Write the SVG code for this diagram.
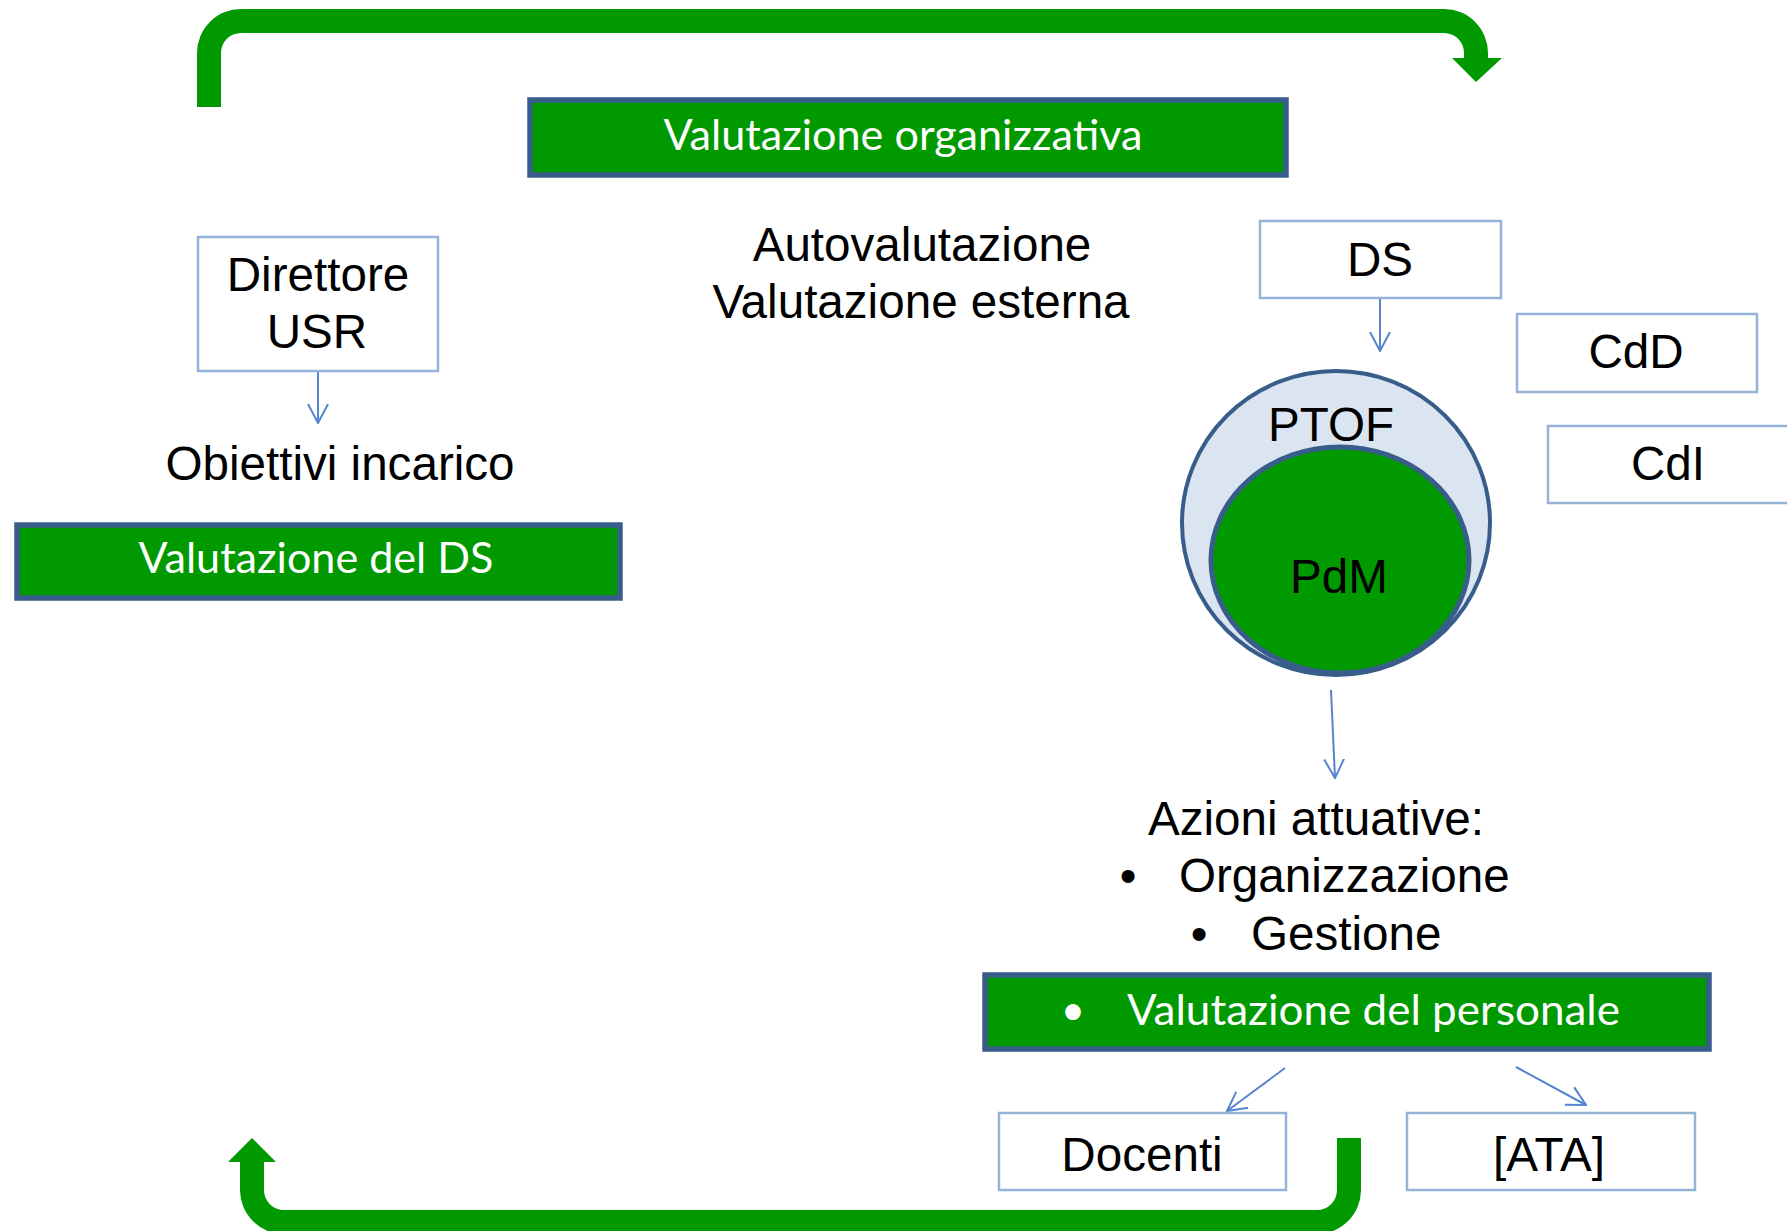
<svg xmlns="http://www.w3.org/2000/svg" width="1787" height="1231" viewBox="0 0 1787 1231">
<style>
.bk{font-family:"Liberation Sans",Arial,sans-serif;font-size:47.6px;fill:#000;text-anchor:middle}
.wt{font-family:Lato,"Open Sans",sans-serif;font-size:42px;fill:#fff;text-anchor:middle}
.lb{fill:#fff;stroke:#95B3D7;stroke-width:2.5}
.gb{fill:#009900;stroke:#385D8A;stroke-width:5.5}
.cn{fill:none;stroke:#5585CF;stroke-width:2}
.ua{fill:#009900;stroke:none}
</style>
<defs>
<marker id="ah" markerUnits="userSpaceOnUse" viewBox="0 0 20 22" refX="19" refY="11" markerWidth="20" markerHeight="22" orient="auto">
<path d="M0,1 L19,11 L0,21" fill="none" stroke="#5585CF" stroke-width="2"/>
</marker>
</defs>
<rect width="1787" height="1231" fill="#fff"/>
<g id="connectors">
<path class="ua" d="M197,107 L197,53 A44,44 0 0 1 241,9 L1444,9 A44,44 0 0 1 1488,53 L1488,58 L1502,58 L1476,82 L1452,58 L1464,58 L1464,53 A20,20 0 0 0 1444,33 L241,33 A20,20 0 0 0 221,53 L221,107 Z"/>
<path class="ua" d="M1361,1138 L1361,1190 A44,44 0 0 1 1317,1234 L284,1234 A44,44 0 0 1 240,1190 L240,1162 L228,1162 L252,1138 L276,1162 L264,1162 L264,1190 A20,20 0 0 0 284,1210 L1317,1210 A20,20 0 0 0 1337,1190 L1337,1138 Z"/>
<line class="cn" x1="318" y1="372" x2="318" y2="423" marker-end="url(#ah)"/>
<line class="cn" x1="1380" y1="298" x2="1380" y2="351" marker-end="url(#ah)"/>
<line class="cn" x1="1331" y1="690" x2="1335" y2="778" marker-end="url(#ah)"/>
<line class="cn" x1="1285" y1="1068" x2="1227" y2="1111" marker-end="url(#ah)"/>
<line class="cn" x1="1516" y1="1067" x2="1586" y2="1105" marker-end="url(#ah)"/>
</g>
<g id="valutazione-organizzativa">
<rect class="gb" x="530" y="100" width="756" height="75"/>
<text class="wt" x="903" y="150" textLength="479" lengthAdjust="spacingAndGlyphs">Valutazione organizzativa</text>
</g>
<g id="direttore-usr">
<rect class="lb" x="198" y="237" width="240" height="134"/>
<text class="bk" x="318" y="291">Direttore</text>
<text class="bk" x="317" y="348">USR</text>
</g>
<g id="obiettivi-incarico">
<text class="bk" x="340" y="480">Obiettivi incarico</text>
</g>
<g id="valutazione-ds">
<rect class="gb" x="17" y="525" width="603" height="73"/>
<text class="wt" x="316" y="573" textLength="355" lengthAdjust="spacingAndGlyphs">Valutazione del DS</text>
</g>
<g id="autovalutazione">
<text class="bk" x="922" y="261">Autovalutazione</text>
<text class="bk" x="921" y="318">Valutazione esterna</text>
</g>
<g id="ds">
<rect class="lb" x="1260" y="221" width="241" height="77"/>
<text class="bk" x="1380" y="276">DS</text>
</g>
<g id="cdd">
<rect class="lb" x="1517" y="314" width="240" height="78"/>
<text class="bk" x="1636" y="368">CdD</text>
</g>
<g id="cdi">
<rect class="lb" x="1548" y="426" width="241" height="77"/>
<text class="bk" x="1668" y="480">CdI</text>
</g>
<g id="ptof">
<ellipse cx="1336" cy="523" rx="154" ry="152" fill="#DBE4F1" stroke="#385D8A" stroke-width="4"/>
<text class="bk" x="1331" y="441">PTOF</text>
</g>
<g id="pdm">
<ellipse cx="1340" cy="560" rx="129" ry="113" fill="#009900" stroke="#385D8A" stroke-width="5"/>
<text class="bk" x="1339" y="593">PdM</text>
</g>
<g id="azioni-attuative">
<text class="bk" x="1316" y="835">Azioni attuative:</text>
<text class="bk" x="1128" y="892">•</text>
<text class="bk" x="1179" y="892" style="text-anchor:start">Organizzazione</text>
<text class="bk" x="1199" y="950">•</text>
<text class="bk" x="1251" y="950" style="text-anchor:start">Gestione</text>
</g>
<g id="valutazione-personale">
<rect class="gb" x="985" y="975" width="724" height="74"/>
<text class="wt" x="1073" y="1025">•</text>
<text class="wt" x="1127" y="1025" style="text-anchor:start" textLength="493" lengthAdjust="spacingAndGlyphs">Valutazione del personale</text>
</g>
<g id="docenti">
<rect class="lb" x="999" y="1113" width="287" height="77"/>
<text class="bk" x="1142" y="1171">Docenti</text>
</g>
<g id="ata">
<rect class="lb" x="1407" y="1113" width="288" height="77"/>
<text class="bk" x="1549" y="1171">[ATA]</text>
</g>
</svg>
